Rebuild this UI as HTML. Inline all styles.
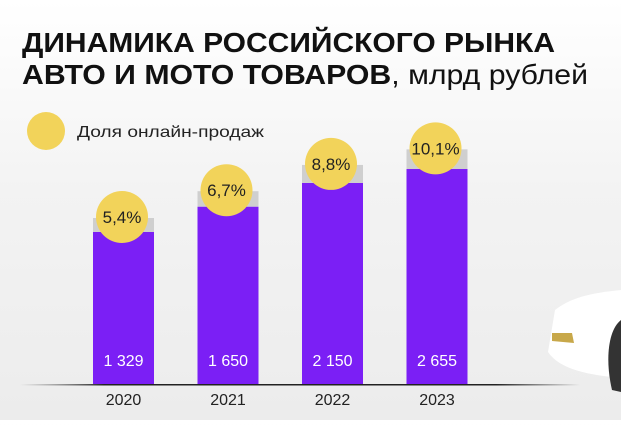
<!DOCTYPE html>
<html><head><meta charset="utf-8"><style>
body{margin:0;width:621px;height:420px;overflow:hidden;background:linear-gradient(180deg,#fff 0%,#f3f3f3 45%,#ececec 100%);font-family:"Liberation Sans",sans-serif;}
</style></head><body>
<svg width="621" height="420">
<text x="22" y="52" font-size="28" font-weight="bold" fill="#111" textLength="533" lengthAdjust="spacingAndGlyphs">ДИНАМИКА РОССИЙСКОГО РЫНКА</text>
<text x="22" y="84" font-size="28" fill="#111" textLength="566" lengthAdjust="spacingAndGlyphs"><tspan font-weight="bold">АВТО И МОТО ТОВАРОВ</tspan>, млрд рублей</text>
<circle cx="46" cy="131" r="19" fill="#f2d35a"/>
<text x="77" y="137" font-size="16" fill="#222" textLength="187" lengthAdjust="spacingAndGlyphs">Доля онлайн-продаж</text>
<g id="bars"></g>
<g>
<path d="M621,290 C590,293 570,298 555,310 L548,352 C560,370 590,375 621,378 Z" fill="#fff"/>
<path d="M552,333 L572,333 L574,343 L552,341 Z" fill="#c8a84a"/>
<path d="M621,320 C608,330 605,360 612,390 L621,392 Z" fill="#333"/>
</g>
<defs><linearGradient id="bl" x1="0" x2="1"><stop offset="0" stop-color="#555" stop-opacity="0"/><stop offset="0.15" stop-color="#222"/><stop offset="0.85" stop-color="#222"/><stop offset="1" stop-color="#222" stop-opacity="0"/></linearGradient></defs>
<rect x="20" y="384" width="560" height="1.5" fill="url(#bl)"/>
</svg>
<script>
const years=["2020","2021","2022","2023"];
const values=[1329,1650,2150,2655];
const labels=["1 329","1 650","2 150","2 655"];
const shares=["5,4%","6,7%","8,8%","10,1%"];
const shareVals=[5.4,6.7,8.8,10.1];
const base=384, x0=93, step=104.5, bw=61;
const g=document.getElementById('bars');const ns="http://www.w3.org/2000/svg";
function mk(t,a){const e=document.createElementNS(ns,t);for(const k in a)e.setAttribute(k,a[k]);g.appendChild(e);return e;}
values.forEach((v,i)=>{
 const x=x0+i*step;
 const top=base-(152+(v-1329)*0.0475+ (i==1||i==2?10:0));
 const cap=14+(shareVals[i]-5.4)*1.2;
 let r=mk('rect',{x:x,y:top-cap,width:bw,height:cap,fill:'#cfcfcf'});
 
 
 r=mk('rect',{x:x,y:top,width:bw,height:base-top,fill:'#7b1ff5'});
 
 
 const cy=top-cap-1;
 let c=mk('circle',{cx:x+29,cy:cy,r:26,fill:'#f2d35a'});
 
 
 let t=mk('text',{x:x+29,y:cy+6,'text-anchor':'middle','font-size':17,fill:'#222'});t.textContent=shares[i];
 
 
 t=mk('text',{x:x+bw/2,y:366,'text-anchor':'middle','font-size':16,fill:'#fff'});t.textContent=labels[i];
 
 
 t=mk('text',{x:x+bw/2,y:405,'text-anchor':'middle','font-size':16,fill:'#222'});t.textContent=years[i];
 
 
});
</script>
</body></html>
